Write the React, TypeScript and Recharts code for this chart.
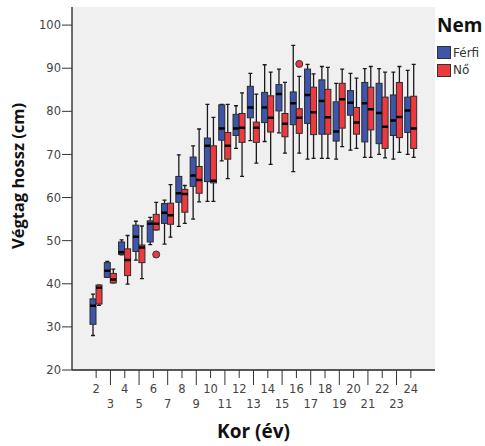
import { ComposedChart, Bar, XAxis, YAxis } from 'recharts';

// age groups (years)
const ages = [2, 3, 4, 5, 6, 7, 8, 9, 10, 11, 12, 13, 14, 15, 16, 17, 18, 19, 20, 21, 22, 23, 24];

// Férfi — five-number summary per age
const maleMin = [28.0, 41.5, 46.7, 45.5, 49.1, 49.2, 53.3, 55.0, 59.1, 68.5, 71.4, 73.2, 73.0, 75.0, 66.0, 68.9, 69.1, 68.9, 71.0, 69.3, 70.0, 68.9, 70.0];
const maleQ1 = [30.6, 41.5, 46.8, 47.5, 49.7, 54.0, 58.9, 62.6, 63.7, 73.3, 74.4, 78.5, 77.4, 80.1, 76.9, 77.2, 74.7, 73.1, 79.1, 72.9, 72.5, 74.4, 75.1];
const maleMedian = [34.9, 43.0, 47.3, 50.9, 53.9, 56.5, 61.0, 65.1, 72.0, 76.0, 76.0, 80.9, 80.9, 84.0, 81.9, 83.8, 82.4, 75.3, 82.0, 81.9, 79.6, 77.9, 80.2];
const maleQ3 = [36.5, 44.9, 49.7, 53.6, 54.6, 58.6, 64.9, 69.4, 73.8, 81.5, 79.3, 85.8, 84.4, 86.2, 84.5, 89.8, 87.3, 82.2, 84.8, 86.7, 86.5, 83.8, 83.3];
const maleMax = [37.6, 45.2, 50.2, 54.5, 55.4, 59.4, 69.9, 72.0, 81.6, 81.6, 81.3, 88.8, 90.8, 89.8, 95.3, 90.9, 90.4, 86.5, 88.8, 89.9, 89.9, 89.1, 89.5];

// Nő — five-number summary per age
const femaleMin = [35.0, 40.2, 39.9, 41.2, 52.5, 50.8, 54.0, 59.0, 59.1, 64.4, 64.9, 68.0, 67.7, 70.3, 70.3, 69.1, 69.1, 71.8, 71.4, 69.3, 69.2, 70.5, 69.3];
const femaleQ1 = [35.3, 40.2, 41.9, 44.9, 52.5, 53.8, 56.6, 61.0, 63.4, 68.9, 72.8, 72.8, 75.2, 74.1, 74.9, 74.6, 74.7, 76.1, 74.7, 75.7, 71.4, 73.9, 71.4];
const femaleMedian = [39.1, 41.0, 45.5, 48.4, 53.9, 55.9, 60.8, 64.1, 63.9, 72.0, 76.2, 76.2, 78.5, 77.1, 78.5, 79.8, 78.6, 82.8, 77.4, 80.5, 76.4, 78.7, 76.0];
const femaleQ3 = [39.7, 42.4, 48.1, 49.0, 56.1, 58.7, 61.9, 67.2, 72.0, 75.1, 79.5, 77.5, 83.6, 79.5, 80.6, 85.6, 85.1, 86.5, 80.9, 85.6, 83.3, 86.7, 83.5];
const femaleMax = [39.7, 43.4, 51.2, 53.4, 58.9, 63.0, 62.8, 75.9, 78.6, 81.6, 84.3, 84.0, 89.1, 86.7, 88.1, 88.7, 90.2, 89.8, 87.7, 90.4, 89.1, 90.4, 90.9];

// outliers (circles)
const femaleOutlierAges = [6, 16];
const femaleOutlierValues = [46.8, 91.0];

const yTicks = [20, 30, 40, 50, 60, 70, 80, 90, 100];
const Y_MIN = 20;
const Y_MAX = 104.2;

const groups = [
  { key: 'male', name: 'Férfi', color: '#3d56ab' },
  { key: 'female', name: 'Nő', color: '#ee3a3e' },
];

const rows = ages.map((age, i) => ({
  age: String(age),
  maleRange: [maleMin[i], maleMax[i]],
  femaleRange: [femaleMin[i], femaleMax[i]],
  male: { min: maleMin[i], q1: maleQ1[i], med: maleMedian[i], q3: maleQ3[i], max: maleMax[i], out: [] as number[] },
  female: {
    min: femaleMin[i], q1: femaleQ1[i], med: femaleMedian[i], q3: femaleQ3[i], max: femaleMax[i],
    out: femaleOutlierValues.filter((_, k) => femaleOutlierAges[k] === age),
  },
}));

const TICK_FONT = '"DejaVu Sans", Verdana, sans-serif';
const TITLE_FONT = '"Open Sans", "DejaVu Sans", sans-serif';

// one box-and-whisker mark; the bar spans min..max and the rest is placed on the same scale
function BoxShape(props: any) {
  const { x, y, width, height, payload, group, color } = props;
  const s = payload[group];
  const top = Math.min(y, y + height);
  const h = Math.abs(height);
  const span = s.max - s.min;
  const py = (v: number) => (span > 0 ? top + ((s.max - v) / span) * h : top);
  const cx = x + width / 2;
  const cap = 2;
  return (
    <g>
      <line x1={cx} x2={cx} y1={py(s.max)} y2={py(s.q3)} stroke="#1a1a1a" strokeWidth={1.3} />
      <line x1={cx} x2={cx} y1={py(s.q1)} y2={py(s.min)} stroke="#1a1a1a" strokeWidth={1.3} />
      <line x1={cx - cap} x2={cx + cap} y1={py(s.max)} y2={py(s.max)} stroke="#1a1a1a" strokeWidth={1.3} />
      <line x1={cx - cap} x2={cx + cap} y1={py(s.min)} y2={py(s.min)} stroke="#1a1a1a" strokeWidth={1.3} />
      <rect x={x} y={py(s.q3)} width={width} height={Math.max(py(s.q1) - py(s.q3), 0.5)} fill={color} stroke="#2b2b2b" strokeWidth={1} />
      <line x1={x} x2={x + width} y1={py(s.med)} y2={py(s.med)} stroke="#000" strokeWidth={2.5} />
      {s.out.map((v: number, k: number) => (
        <circle key={k} cx={cx} cy={py(v)} r={3.5} fill={color} stroke="#333" strokeWidth={1} />
      ))}
    </g>
  );
}

function AgeTick({ x, y, payload }: any) {
  const odd = Number(payload.value) % 2 === 1;
  return (
    <g>
      <line x1={x} x2={x} y1={y} y2={y + (odd ? 15 : 8)} stroke="#333" strokeWidth={1} />
      <text x={x} y={y + (odd ? 38 : 23)} textAnchor="middle" fontFamily={TICK_FONT} fontSize={11.5} fill="#444">
        {payload.value}
      </text>
    </g>
  );
}

function GroupLegend() {
  return (
    <div style={{ position: 'absolute', left: 437, top: 12, width: 48, fontFamily: TICK_FONT }}>
      <div style={{ fontFamily: TITLE_FONT, fontWeight: 700, fontSize: 19, lineHeight: '26px', color: '#111' }}>Nem</div>
      <div style={{ height: 6 }} />
      {groups.map((g) => (
        <div key={g.key} style={{ display: 'flex', alignItems: 'center', height: 17.5 }}>
          <span style={{ width: 14, height: 13, background: g.color, border: '1px solid #333', boxSizing: 'border-box', marginRight: 2 }} />
          <span style={{ fontSize: 12, color: '#333' }}>{g.name}</span>
        </div>
      ))}
    </div>
  );
}

export default function App() {
  return (
    <div style={{ position: 'absolute', left: 0, top: 0, width: 485, height: 446, background: '#fff' }}>
      <ComposedChart width={485} height={446} data={rows} margin={{ top: 7, right: 50, bottom: 0, left: 0 }} barGap={0} barSize={6}>
        <rect x={72} y={7} width={363} height={363} fill="#f0f0f0" />
        <XAxis
          dataKey="age"
          height={76}
          padding={{ left: 17, right: 17 }}
          tickSize={0}
          tickMargin={0}
          tickLine={false}
          interval={0}
          tick={<AgeTick />}
          axisLine={{ stroke: '#222', strokeWidth: 1.3 }}
          label={{
            content: (p: any) => (
              <text x={p.viewBox.x + p.viewBox.width / 2} y={p.viewBox.y + 68} textAnchor="middle" fontFamily={TITLE_FONT} fontWeight={700} fontSize={19} fill="#111">
                Kor (év)
              </text>
            ),
          }}
        />
        <XAxis xAxisId="top" dataKey="age" orientation="top" height={0} tick={false} tickLine={false} axisLine={{ stroke: '#a8a8a8' }} />
        <YAxis
          width={72}
          type="number"
          domain={[Y_MIN, Y_MAX]}
          ticks={yTicks}
          allowDataOverflow
          tickSize={10}
          tickMargin={1}
          tick={{ fontFamily: TICK_FONT, fontSize: 11.5, fill: '#444' }}
          tickLine={{ stroke: '#333' }}
          axisLine={{ stroke: '#222', strokeWidth: 1.3 }}
          label={{
            content: () => (
              <text transform="translate(24,176) rotate(-90)" textAnchor="middle" fontFamily={TITLE_FONT} fontWeight={700} fontSize={16.5} fill="#111">
                Végtag hossz (cm)
              </text>
            ),
          }}
        />
        <YAxis yAxisId="right" orientation="right" width={0} type="number" domain={[Y_MIN, Y_MAX]} tick={false} tickLine={false} axisLine={{ stroke: '#a8a8a8' }} />
        {groups.map((g) => (
          <Bar
            key={g.key}
            dataKey={`${g.key}Range`}
            name={g.name}
            fill={g.color}
            isAnimationActive={false}
            shape={(p: any) => <BoxShape {...p} group={g.key} color={g.color} />}
          />
        ))}
      </ComposedChart>
      <GroupLegend />
    </div>
  );
}
